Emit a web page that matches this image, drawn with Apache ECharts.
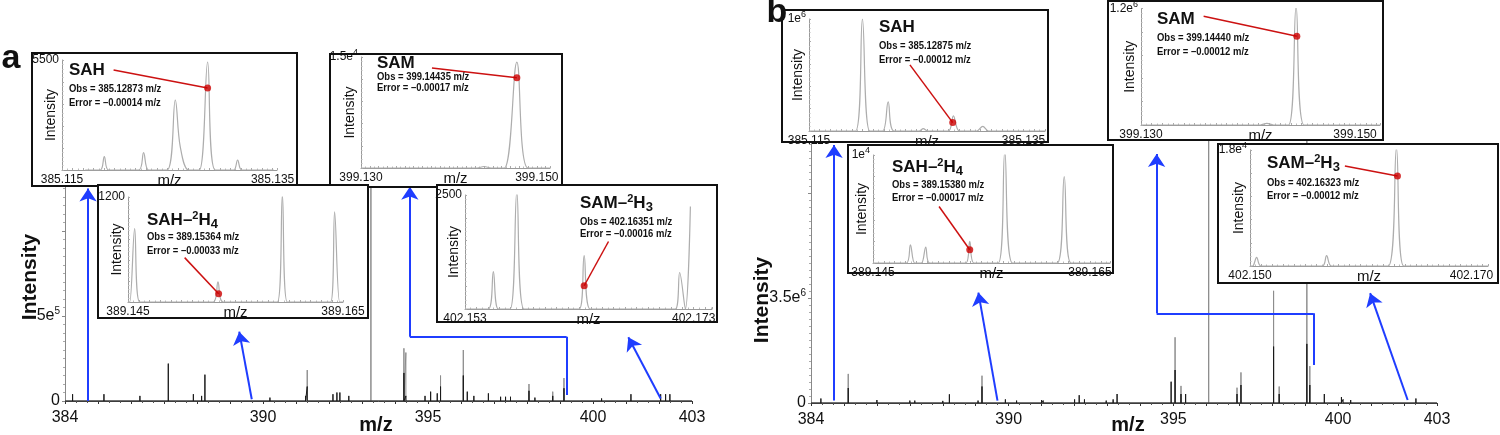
<!DOCTYPE html>
<html><head><meta charset="utf-8">
<script src="https://cdn.jsdelivr.net/npm/echarts@6/dist/echarts.min.js"></script>
<style>html,body{margin:0;padding:0;background:#fff}#c{width:1500px;height:435px}</style>
</head><body><div id="c"></div>
<script>
const FONT = "'Liberation Sans', Arial, Helvetica, sans-serif";

// ---------- main spectra ----------
const mainTicks = [384, 390, 395, 400, 403];
const mzA    = [384.23,385.18,386.27,387.13,387.89,388.14,388.24,390.21,391.29,391.34,392.12,392.24,392.33,392.60,393.27,394.27,394.33,394.91,395.08,395.28,395.38,396.07,396.19,396.39,396.83,397.20,397.35,397.50,398.06,398.24,398.78,399.12,400.26,401.15,402.05,402.20,402.33];
const blackA = [4e4,4e4,3e4,2.2e5,4e4,3e4,1.55e5,2e4,3e4,8.5e4,4e4,5e4,5e4,3e4,0,1.65e5,3e4,3e4,5.5e4,4.5e4,8.5e4,1.5e5,5.5e4,3e4,4.5e4,2.5e4,2.5e4,2.5e4,6e4,2e4,3e4,7.5e4,1.5e4,4e4,4e4,4e4,4e4];
const grayA  = [0,0,0,0,0,0,0,0,0,1.82e5,0,0,0,0,1.6e6,3.1e5,2.85e5,0,0,0,1.5e5,3.0e5,0,0,0,0,0,0,1.0e5,0,5.5e4,1.35e5,0,0,0,0,0];

const mzB    = [384.30,385.13,386.00,387.00,387.15,388.00,388.20,389.07,389.19,389.90,390.24,391.00,391.05,392.00,392.14,392.30,392.96,393.17,393.29,394.93,395.05,395.23,395.37,396.07,396.93,397.05,398.04,398.21,399.05,399.14,399.58,400.10,400.15,400.38,402.36];
const blackB = [1.5e5,5e5,1e5,8e4,8e4,7e4,2.9e5,8e4,5.5e5,1.2e5,8e4,1e5,8e4,1.2e5,2.6e5,1.2e5,8e4,1.2e5,3e5,7.1e5,1.1e6,3e5,3e5,0,3e5,6e5,1.88e6,3e5,1.97e6,6e5,3e5,2e5,1.2e5,1e5,1.5e5];
const grayB  = [0,9.7e5,0,0,0,0,0,0,9.1e5,0,0,0,0,0,0,0,0,0,0,0,2.19e6,5.7e5,0,9.5e6,5.1e5,1.02e6,3.74e6,5.5e5,9.0e6,1.23e6,0,0,0,0,0];

// blue arrows (data coordinates of the main spectra)
const arrowHeadsA = [[[384.70,0],[384.70,1.25e6]], [[389.66,1e4],[389.28,4.08e5]], [[394.45,3.78e5],[394.45,1.26e6]], [[402.05,1.5e4],[401.07,3.75e5]]];
const arrowPathA  = [[[399.20,3.5e4],[399.20,3.78e5]], [[399.20,3.78e5],[394.45,3.78e5]]];
const arrowHeadsB = [[[384.70,8e4],[384.70,8.6e6]], [[389.66,8e4],[389.08,3.68e6]], [[394.49,2.99e6],[394.49,8.3e6]], [[402.11,1e5],[400.97,3.66e6]]];
const arrowPathB  = [[[399.25,1.27e6],[399.25,2.99e6]], [[399.25,2.99e6],[394.49,2.99e6]]];

// ---------- inset traces ----------
const insA1 = [[385.1172,0],[385.11864,0],[385.11902,670],[385.11943,0],[385.12228,0],[385.12275,870],[385.12323,0],[385.12497,0],[385.12576,3500],[385.12623,1170],[385.12703,0],[385.12804,0],[385.12883,5400],[385.12956,0],[385.1313,0],[385.13168,500],[385.13209,0],[385.1351,0]];
const insA2 = [[399.1300,0],[399.1432,0],[399.1440,200],[399.1448,0],[399.1463,0],[399.14773,14300],[399.1490,0],[399.1515,0]];
const insA3 = [[389.145,0],[389.14516,0],[389.14562,840],[389.14609,0],[389.15291,0],[389.15337,230],[389.15384,0],[389.15889,0],[389.15936,1220],[389.15982,0],[389.16385,0],[389.16422,1030],[389.16469,0],[389.165,0]];
const insA4 = [[402.153,0],[402.15504,0],[402.15548,820],[402.15592,0],[402.15694,0],[402.15753,2560],[402.15817,0],[402.16299,0],[402.16342,1170],[402.16395,0],[402.17139,0],[402.17177,800],[402.17227,0],[402.17271,2250]];
const insB1 = [[385.115,0],[385.11933,0],[385.11998,1.0e6],[385.12067,0],[385.12185,0],[385.12238,2.6e5],[385.12294,0],[385.12528,0],[385.12565,2.1e4],[385.12606,0],[385.12799,0],[385.12846,1.35e5],[385.12902,0],[385.13064,0],[385.1312,4.2e4],[385.13173,0],[385.137,0]];
const insB2 = [[399.130,0],[399.14114,0],[399.14176,1.7e4],[399.14238,0],[399.14378,0],[399.14449,1.22e6],[399.14524,0],[399.15233,0]];
const insB3 = [[389.145,0],[389.14808,0],[389.14845,1690],[389.14885,0],[389.14946,0],[389.14986,1480],[389.15023,0],[389.15355,0],[389.15392,2000],[389.15432,0],[389.15654,0],[389.15715,10300],[389.15786,0],[389.16198,0],[389.16263,8000],[389.16325,0],[389.16685,0]];
const insB4 = [[402.150,0],[402.15024,0],[402.1506,1350],[402.15099,0],[402.15653,0],[402.15692,1600],[402.15737,0],[402.16248,0],[402.16323,18300],[402.16389,0],[402.1715,0]];
const insetTraces = [insA1, insA2, insA3, insA4, insB1, insB2, insB3, insB4];

const insetDots  = [[385.12883,4100],[399.14773,12200],[389.15343,95],[402.16342,510],[385.1284,7.5e4],[399.14456,9.15e5],[389.15392,1231],[402.16332,13970]];
const insetLeads = [[385.1199,5000],[399.13807,13500],[389.15027,507],[402.16555,1480],[385.12441,5.9e5],[399.13585,1.121e6],[389.15109,5231],[402.15857,15517]];
const insetXRange = [[385.115,385.135],[399.130,399.150],[389.145,389.165],[402.153,402.173],[385.115,385.135],[399.130,399.150],[389.145,389.165],[402.150,402.170]];
const insetYMax   = [5500, 15000, 1200, 2500, 1e6, 1.2e6, 1e4, 1.8e4];
const insetYLabel = ['5500','1.5e{sup|4}','1200','2500','1e{sup|6}','1.2e{sup|6}','1e{sup|4}','1.8e{sup|4}'];
const insetTitles = ['SAH','SAM','SAH–{sup|2}H{sub|4}','SAM–{sup|2}H{sub|3}','SAH','SAM','SAH–{sup|2}H{sub|4}','SAM–{sup|2}H{sub|3}'];
const insetObs = ['Obs = 385.12873 m/z','Obs = 399.14435 m/z','Obs = 389.15364 m/z','Obs = 402.16351 m/z','Obs = 385.12875 m/z','Obs = 399.14440 m/z','Obs = 389.15380 m/z','Obs = 402.16323 m/z'];
const insetErr = ['Error = –0.00014 m/z','Error = –0.00017 m/z','Error = –0.00033 m/z','Error = –0.00016 m/z','Error = –0.00012 m/z','Error = –0.00012 m/z','Error = –0.00017 m/z','Error = –0.00012 m/z'];

// ---------- layout (pixels) ----------
const L = {
  boxes: [[32,53,265,133],[330,54,232,133],[98,185,270,133],[437,185,280,137],[782,10,266,132],[1108,1,275,139],[848,145,265,128],[1218,144,280,139]],
  grids: [[62,60,215,110],[361,57,189,111],[128,197,215,105],[465,195,247,114],[809,19,236,112],[1141,8,239,117],[873,155,237,108],[1250,150,238,116]],
  xMax:  [385.13542,399.1515,389.165,402.1746,385.137,399.15233,389.16685,402.1715],
  text:  [[69,70,89,103],[377,63,77,88],[147,220,237,251],[580,203,222,234],[879,27,46,60],[1157,19,38,52],[892,167,185,198],[1267,163,183,196]]
};

function spikes(mz, vals){
  const out=[[384,0]];
  mz.forEach((m,i)=>{ if(vals[i]>0){ out.push([m,0],[m,vals[i]],[m,0]); } });
  out.push([403,0]); return out;
}
const supRich = {sup:{fontSize:9, padding:[0,0,8,0], fontFamily:FONT, color:'#111'}};

const grid = [
  {left:65, top:61, width:627, height:340},
  {left:811, top:88, width:626, height:315}
];
const xAxis = [], yAxis = [];
function mainX(gi){ return {type:'value', gridIndex:gi, min:384, max:403, interval:1, z:1,
  axisLine:{show:true, onZero:false, lineStyle:{color:'#333', width:1}},
  axisTick:{show:true, length:3, lineStyle:{color:'#333'}},
  minorTick:{show:true, splitNumber:3, length:2, lineStyle:{color:'#555'}},
  splitLine:{show:false}, minorSplitLine:{show:false},
  axisLabel:{customValues:mainTicks, fontSize:16, fontFamily:FONT, color:'#111', margin:9}}; }
function mainY(gi, max, interval, lab, split){ return {type:'value', gridIndex:gi, min:0, max:max, interval:interval, z:1,
  axisLine:{show:true, onZero:false, lineStyle:{color:'#888'}},
  axisTick:{show:true, length:3, lineStyle:{color:'#888'}},
  minorTick:{show:true, splitNumber:split, length:2, lineStyle:{color:'#aaa'}},
  splitLine:{show:false}, minorSplitLine:{show:false},
  axisLabel:{customValues:[0, interval], formatter:v=> v===0 ? '0' : lab, fontSize:16, fontFamily:FONT, color:'#111', margin:5,
    rich:{sup:{fontSize:10, padding:[0,0,9,0], fontFamily:FONT, color:'#111'}}}}; }
xAxis.push(mainX(0), mainX(1));
yAxis.push(mainY(0, 2.0e6, 5e5, '5e{sup|5}', 10), mainY(1, 10.5e6, 3.5e6, '3.5e{sup|6}', 15));

const series = [
  {type:'line', xAxisIndex:0, yAxisIndex:0, data:spikes(mzA, grayA), showSymbol:false, z:2, lineStyle:{color:'#8c8c8c', width:1}},
  {type:'line', xAxisIndex:0, yAxisIndex:0, data:spikes(mzA, blackA), showSymbol:false, z:2, lineStyle:{color:'#1a1a1a', width:1}},
  {type:'line', xAxisIndex:1, yAxisIndex:1, data:spikes(mzB, grayB), showSymbol:false, z:2, lineStyle:{color:'#8c8c8c', width:1}},
  {type:'line', xAxisIndex:1, yAxisIndex:1, data:spikes(mzB, blackB), showSymbol:false, z:2, lineStyle:{color:'#1a1a1a', width:1}},
  {type:'lines', coordinateSystem:'cartesian2d', xAxisIndex:0, yAxisIndex:0, z:3, symbol:['none','arrow'], symbolSize:13,
    lineStyle:{color:'#1f3dff', width:2, opacity:1, curveness:0}, data:arrowHeadsA.map(c=>({coords:c}))},
  {type:'lines', coordinateSystem:'cartesian2d', xAxisIndex:0, yAxisIndex:0, z:3, symbol:'none',
    lineStyle:{color:'#1f3dff', width:2, opacity:1, curveness:0}, data:arrowPathA.map(c=>({coords:c}))},
  {type:'lines', coordinateSystem:'cartesian2d', xAxisIndex:1, yAxisIndex:1, z:3, symbol:['none','arrow'], symbolSize:13,
    lineStyle:{color:'#1f3dff', width:2, opacity:1, curveness:0}, data:arrowHeadsB.map(c=>({coords:c}))},
  {type:'lines', coordinateSystem:'cartesian2d', xAxisIndex:1, yAxisIndex:1, z:3, symbol:'none',
    lineStyle:{color:'#1f3dff', width:2, opacity:1, curveness:0}, data:arrowPathB.map(c=>({coords:c}))}
];

const graphic = [];
insetTraces.forEach((trace, i)=>{
  const gi = i + 2;
  const g = L.grids[i], b = L.boxes[i], t = L.text[i];
  const [lo, hi] = insetXRange[i];
  grid.push({left:g[0], top:g[1], width:g[2], height:g[3]});
  xAxis.push({type:'value', gridIndex:gi, min:lo, max:L.xMax[i], interval:0.001, z:12,
    axisLine:{show:true, onZero:false, lineStyle:{color:'#9a9a9a', width:1}},
    axisTick:{show:true, inside:true, length:2, lineStyle:{color:'#aaa'}},
    minorTick:{show:true, splitNumber:2, length:1.5, lineStyle:{color:'#bbb'}},
    splitLine:{show:false}, minorSplitLine:{show:false},
    axisLabel:{customValues:[lo, hi], formatter:v=>v.toFixed(3), fontSize:12, fontFamily:FONT, color:'#111', margin:4},
    name:'m/z', nameLocation:'middle', nameGap:3, nameMoveOverlap:false,
    nameTextStyle:{fontSize:15, fontFamily:FONT, color:'#111'}});
  yAxis.push({type:'value', gridIndex:gi, min:0, max:insetYMax[i], interval:insetYMax[i]/5, z:12,
    axisLine:{show:true, onZero:false, lineStyle:{color:'#9a9a9a', width:1}},
    axisTick:{show:true, inside:true, length:2, lineStyle:{color:'#aaa'}},
    minorTick:{show:true, splitNumber:5, length:1.5, lineStyle:{color:'#bbb'}},
    splitLine:{show:false}, minorSplitLine:{show:false},
    axisLabel:{customValues:[insetYMax[i]], formatter:()=>insetYLabel[i], fontSize:12, fontFamily:FONT, color:'#111', margin:3, rich:supRich},
    name:'Intensity', nameLocation:'middle', nameRotate:90, nameGap:4, nameMoveOverlap:false,
    nameTextStyle:{fontSize:14, fontFamily:FONT, color:'#111'}});
  series.push({type:'line', xAxisIndex:gi, yAxisIndex:gi, data:trace, showSymbol:false, smooth:0.35, z:13,
    lineStyle:{color:'#adadad', width:1.2}});
  series.push({type:'line', xAxisIndex:gi, yAxisIndex:gi, data:[insetLeads[i], insetDots[i]], showSymbol:false, z:14,
    lineStyle:{color:'#cc1111', width:1.5}});
  series.push({type:'scatter', xAxisIndex:gi, yAxisIndex:gi, data:[insetDots[i]], symbolSize:7, z:15,
    itemStyle:{color:'#cc0000'}});
  graphic.push({type:'rect', z:10, shape:{x:b[0], y:b[1], width:b[2], height:b[3]},
    style:{fill:'#fff', stroke:'#111', lineWidth:2}});
  graphic.push({type:'text', z:16, x:t[0], y:t[1], style:{text:insetTitles[i], fontSize:17, fontWeight:'bold', fontFamily:FONT, fill:'#111',
    align:'left', verticalAlign:'middle', textAlign:'left', textVerticalAlign:'middle', lineHeight:24,
    rich:{sup:{fontSize:11, fontWeight:'bold', fontFamily:FONT, fill:'#111', padding:[0,0,8,0]},
          sub:{fontSize:13, fontWeight:'bold', fontFamily:FONT, fill:'#111', padding:[8,0,0,0]}}}});
  graphic.push({type:'text', z:16, x:t[0], y:t[2], scaleX:0.86, style:{text:insetObs[i], fontSize:11, fontWeight:'bold', fontFamily:FONT, fill:'#111',
    align:'left', verticalAlign:'middle', textAlign:'left', textVerticalAlign:'middle'}});
  graphic.push({type:'text', z:16, x:t[0], y:t[3], scaleX:0.86, style:{text:insetErr[i], fontSize:11, fontWeight:'bold', fontFamily:FONT, fill:'#111',
    align:'left', verticalAlign:'middle', textAlign:'left', textVerticalAlign:'middle'}});
});

// panel letters and main axis titles
const bigText = (txt, x, y, size, rot) => ({type:'text', z:16, x:x, y:y, rotation:rot||0,
  style:{text:txt, fontSize:size, fontWeight:'bold', fontFamily:FONT, fill:'#111', align:'center', verticalAlign:'middle', textAlign:'center', textVerticalAlign:'middle'}});
graphic.push(bigText('a', 11, 59, 34), bigText('b', 777, 13, 34));
graphic.push(bigText('Intensity', 30, 277, 21, Math.PI/2), bigText('Intensity', 762, 300, 21, Math.PI/2));
graphic.push(bigText('m/z', 376, 425, 20), bigText('m/z', 1128, 425, 20));

const chart = echarts.init(document.getElementById('c'), null, {renderer:'canvas'});
chart.setOption({animation:false, backgroundColor:'#fff', grid, xAxis, yAxis, series, graphic});
</script></body></html>
